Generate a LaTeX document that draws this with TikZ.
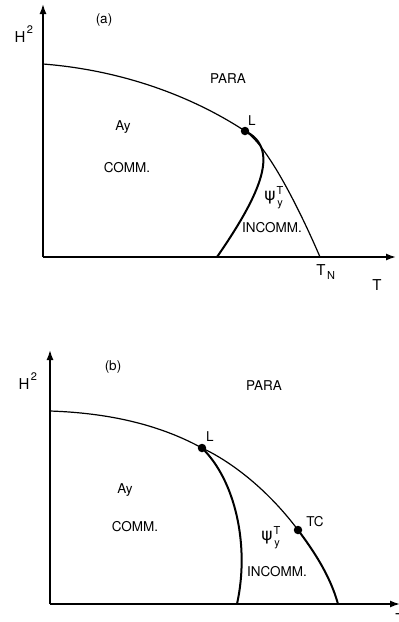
\documentclass[tikz,border=0pt]{standalone}
\usepackage{fontspec}
\setmainfont{TeX Gyre Heros}
\newfontfamily\dvfont{DejaVu Sans}
\usetikzlibrary{arrows.meta}
\begin{document}
\begin{tikzpicture}[x=1pt,y=-1pt,
  axis/.style={line width=1.5pt,-{Latex[length=10pt,width=7pt]}},
  thinline/.style={line width=1.2pt},
  thickline/.style={line width=2pt},
  lbl/.style={font=\fontsize{13.5}{15}\selectfont,inner sep=0pt},
  biglbl/.style={font=\fontsize{15}{17}\selectfont,inner sep=0pt},
  psilbl/.style={font=\dvfont\fontsize{17}{19}\selectfont,inner sep=0pt},
  idx/.style={font=\fontsize{11}{12}\selectfont,inner sep=0pt},
  dot/.style={circle,fill=black,inner sep=0pt,minimum size=8.5pt}]
\useasboundingbox (0,0) rectangle (399,622);
\clip (0,0) rectangle (399,622);
\fill[white] (0,0) rectangle (399,622);

% ---------------- panel (a) ----------------
\coordinate (Oa) at (43,257);
\coordinate (Ya) at (43,4);
\coordinate (Xa) at (396,257);
\draw[axis] (Oa) -- (Ya);
\draw[axis] (Oa) -- (Xa);
\coordinate (Sa) at (43,64);
\node[dot] (La) at (245,131) {};
\coordinate (TNa) at (320,257);
\coordinate (Ea) at (217,257);
\draw[thinline] (Sa) .. controls (120,70) and (190,95) .. (La.center);
\draw[thinline] (La.center) .. controls (270,147) and (305,222) .. (TNa);
\draw[thickline] (La.center) .. controls (280,148) and (262,192) .. (Ea);

\node[biglbl] (H2a) at (20,37) {H};
\node[idx] (H2sa) at (30,30) {2};
\node[lbl] (capa) at (104,20) {(a)};
\node[lbl] (PARAa) at (228,79) {PARA};
\node[lbl] (Lla) at (252,121) {L};
\node[lbl] (Aya) at (123,127) {Ay};
\node[lbl] (COMMa) at (127,168) {COMM.};
\node[psilbl] (psia) at (270,198) {ψ};
\node[idx] (psiTa) at (280,190) {T};
\node[idx] (psiya) at (280,205) {y};
\node[lbl] (INCa) at (272,228) {INCOMM.};
\node[biglbl] (TNla) at (321,270) {T};
\node[idx] (TNsa) at (331,275) {N};
\node[biglbl] (Tla) at (377,285) {T};

% ---------------- panel (b) ----------------
\coordinate (Ob) at (50,604);
\coordinate (Yb) at (50,350);
\coordinate (Xb) at (400,604);
\draw[axis] (Ob) -- (Yb);
\draw[axis] (Ob) -- (Xb);
\coordinate (Sb) at (50,411);
\node[dot] (Lb) at (202,448) {};
\node[dot] (TCb) at (298,530) {};
\coordinate (Eb1) at (237,604);
\coordinate (Eb2) at (338,604);
\draw[thinline] (Sb) .. controls (110,413) and (160,425) .. (Lb.center);
\draw[thinline] (Lb.center) .. controls (232,462) and (268,490) .. (TCb.center);
\draw[thickline] (TCb.center) .. controls (313,550) and (330,575) .. (Eb2);
\draw[thickline] (Lb.center) .. controls (235,480) and (250,545) .. (Eb1);

\node[biglbl] (H2b) at (24,384) {H};
\node[idx] (H2sb) at (34,377) {2};
\node[lbl] (capb) at (113,367) {(b)};
\node[lbl] (PARAb) at (264,386) {PARA};
\node[lbl] (Llb) at (210,437) {L};
\node[lbl] (TClb) at (315,522) {TC};
\node[lbl] (Ayb) at (125,490) {Ay};
\node[lbl] (COMMb) at (135,527) {COMM.};
\node[psilbl] (psib) at (267,538) {ψ};
\node[idx] (psiTb) at (277,530) {T};
\node[idx] (psiyb) at (277,545) {y};
\node[lbl] (INCb) at (277,572) {INCOMM.};
\node[biglbl] (Tlb) at (400,619) {T};
\end{tikzpicture}
\end{document}
